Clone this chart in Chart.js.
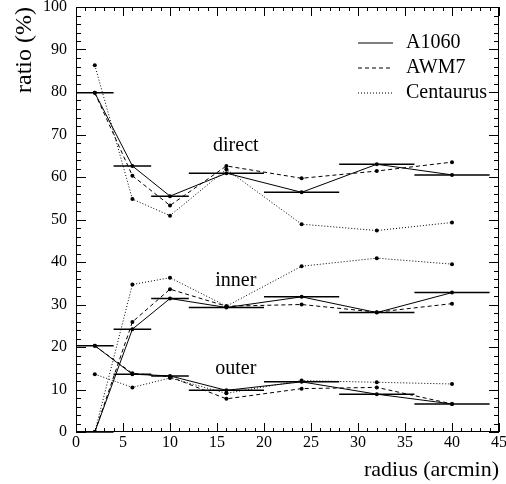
<!DOCTYPE html>
<html>
<head>
<meta charset="utf-8">
<script src="https://cdn.jsdelivr.net/npm/chart.js"></script>
<style>
  body { margin: 0; background: #fff; }
  canvas { display: block; }
</style>
</head>
<body>
<canvas id="ratioChart" width="506" height="484"></canvas>
<script>
// radius bins (arcmin)
var radius = [2, 6, 10, 16, 24, 32, 40];
var binLo = [0, 4, 8, 12, 20, 28, 36];
var binHi = [4, 8, 12, 20, 28, 36, 44];

// ratio (%) per cluster, per component
var a1060Direct = [79.8, 62.6, 55.5, 60.9, 56.4, 63.0, 60.5];
var awm7Direct  = [79.8, 60.3, 53.3, 62.6, 59.7, 61.4, 63.5];
var centDirect  = [86.3, 54.8, 50.9, 61.8, 48.9, 47.4, 49.3];

var a1060Inner = [0, 24.2, 31.4, 29.3, 31.8, 28.1, 32.8];
var awm7Inner  = [0, 25.9, 33.6, 29.6, 30.0, 28.2, 30.2];
var centInner  = [0, 34.7, 36.3, 29.6, 39.0, 40.9, 39.5];

var a1060Outer = [20.3, 13.6, 13.2, 9.8, 11.8, 8.9, 6.6];
var awm7Outer  = [20.3, 13.8, 13.0, 7.8, 10.2, 10.5, 6.6];
var centOuter  = [13.6, 10.5, 12.7, 9.1, 12.1, 11.7, 11.3];

var seriesNames = ['A1060', 'AWM7', 'Centaurus'];
var seriesDash = [[], [4, 3], [1, 2]];

var groupNames = ['direct', 'inner', 'outer'];
var groupLabelX = [17, 17, 17];
var groupLabelY = [67.3, 35.5, 14.8];

var serif = "'Liberation Serif', 'DejaVu Serif', serif";

function makeSet(name, idx, values) {
    return {
        label: name,
        data: radius.map(function(r, i) { return {x: r, y: values[i]}; }),
        borderColor: '#000',
        backgroundColor: '#000',
        borderWidth: 1,
        borderDash: seriesDash[idx],
        pointRadius: 2,
        pointBorderWidth: 0,
        pointBackgroundColor: '#000',
        tension: 0,
        fill: false
    };
}

var datasets = [
    makeSet('A1060', 0, a1060Direct),
    makeSet('AWM7', 1, awm7Direct),
    makeSet('Centaurus', 2, centDirect),
    makeSet('A1060', 0, a1060Inner),
    makeSet('AWM7', 1, awm7Inner),
    makeSet('Centaurus', 2, centInner),
    makeSet('A1060', 0, a1060Outer),
    makeSet('AWM7', 1, awm7Outer),
    makeSet('Centaurus', 2, centOuter)
];

// bin-width bars for A1060, frame with inward ticks, legend, group labels
var extras = {
    id: 'extras',
    afterDatasetsDraw: function(chart) {
        var ctx = chart.ctx;
        var a = chart.chartArea;
        var x = chart.scales.x, y = chart.scales.y;

        function seg(x1, y1, x2, y2) {
            ctx.beginPath();
            ctx.moveTo(x1, y1);
            ctx.lineTo(x2, y2);
            ctx.stroke();
        }

        ctx.save();
        ctx.strokeStyle = '#000';
        ctx.fillStyle = '#000';
        ctx.setLineDash([]);

        // A1060 horizontal bars
        ctx.lineWidth = 1.5;
        [a1060Direct, a1060Inner, a1060Outer].forEach(function(vals) {
            for (var i = 0; i < radius.length; i++) {
                var py = y.getPixelForValue(vals[i]);
                seg(x.getPixelForValue(binLo[i]), py, x.getPixelForValue(binHi[i]), py);
            }
        });

        // frame
        ctx.lineWidth = 1;
        ctx.strokeRect(a.left + 0.5, a.top + 0.5, a.right - a.left - 1, a.bottom - a.top - 1);

        // x ticks
        for (var v = 0; v <= 45; v++) {
            var px = Math.round(x.getPixelForValue(v)) + 0.5;
            var len = v % 5 == 0 ? 9 : 4;
            seg(px, a.bottom, px, a.bottom - len);
            seg(px, a.top, px, a.top + len);
        }
        // y ticks
        for (var w = 0; w <= 100; w += 2) {
            var py2 = Math.round(y.getPixelForValue(w)) + 0.5;
            var len2 = w % 10 == 0 ? 10 : 5;
            seg(a.left, py2, a.left + len2, py2);
            seg(a.right, py2, a.right - len2, py2);
        }

        // legend
        ctx.font = '20px ' + serif;
        ctx.textBaseline = 'middle';
        ctx.textAlign = 'left';
        for (var k = 0; k < seriesNames.length; k++) {
            var ly = a.top + 36 + k * 25;
            ctx.setLineDash(seriesDash[k]);
            seg(a.right - 141, ly, a.right - 106, ly);
            ctx.setLineDash([]);
            ctx.fillText(seriesNames[k], a.right - 93, ly);
        }

        // group labels
        ctx.textAlign = 'center';
        for (var g = 0; g < groupNames.length; g++) {
            ctx.fillText(groupNames[g], x.getPixelForValue(groupLabelX[g]), y.getPixelForValue(groupLabelY[g]));
        }
        ctx.restore();
    }
};

var ctx = document.getElementById('ratioChart').getContext('2d');
var chart1 = new Chart(ctx, {
    type: 'line',
    data: { datasets: datasets },
    options: {
        responsive: false,
        animation: false,
        layout: { padding: { top: 7, right: 7, left: 0, bottom: 0 } },
        plugins: {
            legend: { display: false },
            tooltip: { enabled: false }
        },
        scales: {
            x: {
                type: 'linear',
                min: 0,
                max: 45,
                grid: { display: false, drawTicks: false, tickLength: 0 },
                border: { display: false },
                ticks: {
                    stepSize: 5,
                    maxRotation: 0,
                    padding: 1,
                    color: '#000',
                    font: { family: serif, size: 16 }
                },
                title: {
                    display: true,
                    text: 'radius (arcmin)',
                    align: 'end',
                    color: '#000',
                    font: { family: serif, size: 22 },
                    padding: { top: 0, bottom: 1 }
                },
                afterFit: function(scale) {
                    scale.height = 52;
                    scale.paddingLeft = 0;
                    scale.paddingRight = 0;
                }
            },
            y: {
                min: 0,
                max: 100,
                grid: { display: false, drawTicks: false, tickLength: 0 },
                border: { display: false },
                ticks: {
                    stepSize: 10,
                    padding: 9,
                    color: '#000',
                    font: { family: serif, size: 16 }
                },
                title: {
                    display: true,
                    text: 'ratio (%)',
                    align: 'end',
                    color: '#000',
                    font: { family: serif, size: 24 },
                    padding: { top: 10, bottom: 0 }
                },
                afterFit: function(scale) {
                    scale.width = 76;
                    scale.paddingTop = 0;
                    scale.paddingBottom = 0;
                }
            }
        }
    },
    plugins: [extras]
});
</script>
</body>
</html>
